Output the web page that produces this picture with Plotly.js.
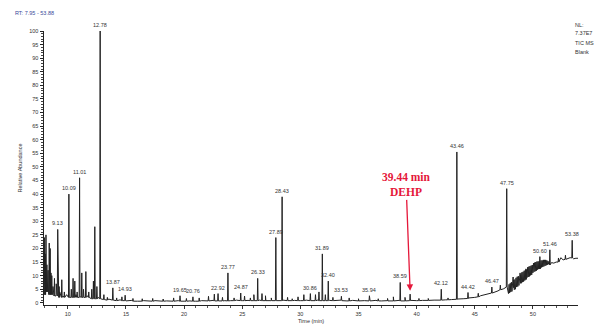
<!DOCTYPE html>
<html>
<head>
<meta charset="utf-8">
<script src="https://cdn.plot.ly/plotly-3.0.1.min.js"></script>
<style>
  html, body { margin: 0; padding: 0; background: #fff; }
  #chart { width: 601px; height: 333px; }
</style>
</head>
<body>
<div id="chart"></div>
<script>
// TIC chromatogram of the blank run, relative abundance vs retention time.

// Peak apexes: retention time (min), apex abundance (%), baseline level under the peak (%)
const peakTime = [
  7.98, 8.05, 8.12, 8.20, 8.30, 8.40, 8.48, 8.55, 8.62, 8.72, 8.85, 9.00, 9.13, 9.25, 9.48, 9.70,
  10.09, 10.30, 10.45, 10.60, 10.80, 11.01, 11.20, 11.35, 11.55, 11.80, 12.06, 12.20, 12.32, 12.50,
  12.78, 13.10, 13.40, 13.87, 14.20, 14.65, 14.93, 15.60, 16.40, 17.30, 18.20, 19.10, 19.65, 20.20,
  20.76, 21.30, 22.10, 22.60, 22.92, 23.30, 23.77, 24.30, 24.87, 25.20, 25.70, 26.00, 26.33, 26.70,
  27.00, 27.50, 27.89, 28.43, 28.90, 29.30, 29.80, 30.30, 30.86, 31.30, 31.60, 31.89, 32.15, 32.40,
  32.80, 33.53, 34.20, 35.00, 35.94, 36.70, 37.50, 38.00, 38.59, 39.00, 39.44, 40.20, 41.00, 42.12,
  42.70, 43.46, 44.42, 45.30, 46.47, 47.20, 47.75, 48.30, 48.90, 49.40, 50.60, 51.46, 52.20, 52.80,
  53.38
];
const peakHeight = [
  24, 18, 25, 14, 12, 22, 20, 11, 10, 6, 9, 7, 27, 6, 8.5, 4,
  40, 5, 9, 8, 4, 46, 11, 5, 11.5, 4, 5, 8, 28, 6,
  100, 3, 2, 5.5, 1.8, 2.2, 2.8, 1.6, 1.5, 1.6, 1.4, 1.8, 2.6, 1.6,
  2.2, 1.8, 2.4, 3.2, 3.4, 2, 11, 1.8, 3.6, 2.5, 1.8, 3, 9, 3.4,
  2.6, 1.8, 24, 39, 2, 1.5, 2.2, 3, 3.4, 3, 4, 18, 3, 8,
  2, 2.4, 1.8, 1.5, 2.6, 1.5, 1.6, 2.2, 7.5, 2.0, 3.2, 1.6, 1.6, 5,
  1.8, 55.5, 3.8, 3.5, 5.8, 6.5, 42, 9.5, 11, 12.5, 17, 19.5, 16.5, 17.5,
  23
];
const peakFoot = [
  3, 3, 4, 4, 4, 3, 3, 3, 3, 3, 2.5, 2.5, 2.5, 2, 2, 2,
  2, 2, 2, 2, 2, 2, 2, 2, 2, 2, 1.5, 1.5, 1.5, 1.5,
  1.5, 1.2, 1, 1, 0.8, 0.8, 0.8, 0.6, 0.6, 0.6, 0.6, 0.6, 0.6, 0.6,
  0.6, 0.6, 0.7, 0.7, 0.7, 0.7, 0.7, 0.8, 0.8, 0.8, 0.8, 0.8, 0.8, 0.8,
  0.8, 0.8, 0.8, 0.8, 0.8, 0.8, 0.8, 0.8, 0.8, 0.8, 0.8, 0.8, 0.8, 0.8,
  0.8, 0.8, 0.7, 0.7, 0.7, 0.7, 0.7, 0.7, 0.7, 0.7, 0.8, 0.8, 0.9, 1.0,
  1.1, 1.3, 1.6, 2.2, 3.6, 4.8, 5.8, 5.6, 7.2, 8.6, 12.5, 14, 15, 16,
  16.5
];

// Baseline and detector noise between the peaks
const baseTime = [
  7.95, 8.25, 8.5, 8.75, 9.0, 9.3, 9.6, 9.9, 10.2, 10.7, 11.1, 11.7, 12.0, 12.6, 13.0, 13.5,
  14.0, 14.5, 15.0, 15.5, 16.0, 16.5, 17.0, 17.5, 18.0, 18.5, 19.0, 19.5, 20.0, 20.5,
  21.0, 21.5, 22.0, 22.5, 23.0, 23.5, 24.0, 24.5, 25.0, 25.5, 26.0, 26.5, 27.0, 27.5,
  28.0, 28.5, 29.0, 29.5, 30.0, 30.5, 31.0, 31.5, 32.0, 32.5, 33.0, 33.5, 34.0, 34.5,
  35.0, 35.5, 36.0, 36.5, 37.0, 37.5, 38.0, 38.5, 39.0, 39.5, 40.0, 40.5, 41.0, 41.5,
  42.0, 42.5, 43.0, 43.5, 44.0, 44.5, 45.0, 45.5, 46.0, 46.5, 47.0, 47.5,
  47.90, 47.95, 48.00, 48.05, 48.10, 48.15, 48.20, 48.25, 48.35, 48.40, 48.45, 48.50,
  48.55, 48.60, 48.65, 48.70, 48.75, 48.80, 48.85, 48.95, 49.00, 49.05, 49.10, 49.15,
  49.20, 49.25, 49.30, 49.35, 49.45, 49.50, 49.55, 49.60, 49.65, 49.70, 49.75, 49.80,
  49.85, 49.90, 49.95, 50.00, 50.05, 50.10, 50.15, 50.20, 50.25, 50.30, 50.35, 50.40,
  50.45, 50.50, 50.55, 50.65, 50.70, 50.75, 50.80, 50.85, 50.90, 50.95, 51.00, 51.05,
  51.10, 51.15, 51.20, 51.25, 51.30, 51.35, 51.40, 51.55, 51.60, 51.8, 52.0, 52.4,
  52.6, 53.0, 53.2, 53.5, 53.7, 53.88
];
const baseLevel = [
  5, 6, 3.5, 5, 3, 4, 2.5, 3, 2, 3, 2.2, 2.6, 1.6, 2, 1.2, 1.4,
  0.9, 1.1, 0.7, 0.9, 0.6, 0.8, 0.6, 0.8, 0.6, 0.7, 0.6, 0.8, 0.6, 0.7,
  0.6, 0.8, 0.7, 0.9, 0.7, 0.8, 0.8, 1.0, 0.8, 0.9, 0.8, 1.0, 0.8, 0.9,
  0.8, 1.0, 0.8, 0.9, 0.8, 1.0, 0.8, 1.0, 0.8, 0.9, 0.8, 1.0, 0.7, 0.9,
  0.7, 0.8, 0.7, 0.9, 0.7, 0.8, 0.7, 0.9, 0.7, 0.9, 0.8, 0.9, 0.9, 1.0,
  1.0, 1.1, 1.2, 1.4, 1.5, 1.8, 2.0, 2.6, 3.0, 3.8, 4.4, 5.2,
  3.4, 6.8, 3.6, 7.2, 4.0, 7.6, 4.2, 8.0, 8.4, 4.8, 8.6, 5.0,
  9.2, 5.8, 9.6, 6.0, 9.8, 6.4, 10.2, 10.4, 7.2, 11.2, 7.6, 11.4,
  7.8, 11.8, 8.2, 12.0, 12.2, 9.3, 13.1, 9.5, 13.3, 9.7, 13.5, 10.1,
  13.7, 10.3, 13.9, 11.0, 14.6, 11.4, 14.8, 11.6, 15.0, 11.8, 15.2, 12.2,
  15.2, 12.4, 15.4, 12.8, 15.6, 13.0, 15.6, 13.2, 15.8, 13.4, 15.8, 13.6,
  15.8, 13.8, 15.6, 14.0, 15.4, 14.2, 15.0, 14.4, 14.8, 14.6, 15.0, 16.6,
  15.8, 16.4, 16.6, 16.2, 16.4, 16.4
];

// Peaks that carry a retention-time label
const labeledTimes = [
  9.13, 10.09, 11.01, 12.78, 13.87, 14.93, 19.65, 20.76, 22.92, 23.77, 24.87, 26.33, 27.89, 28.43,
  30.86, 31.89, 32.40, 33.53, 35.94, 38.59, 42.12, 43.46, 44.42, 46.47, 47.75, 50.60, 51.46, 53.38
];

// Highlighted compound
const markTime = 39.44;
const markName = "DEHP";

// Merge baseline points and peak apexes into one retention-time ordered trace
const HALF_WIDTH = 0.035;
const pts = [];
baseTime.forEach((t, i) => pts.push([t, baseLevel[i]]));
peakTime.forEach((t, i) => {
  pts.push([t - HALF_WIDTH, peakFoot[i]]);
  pts.push([t, peakHeight[i]]);
  pts.push([t + HALF_WIDTH, peakFoot[i]]);
});
pts.sort((a, b) => a[0] - b[0]);

const trace = {
  x: pts.map(p => p[0]),
  y: pts.map(p => p[1]),
  type: 'scatter',
  mode: 'lines',
  line: { color: '#222', width: 1 },
  hoverinfo: 'x+y'
};

const tiny = { family: 'Liberation Sans, Arial, sans-serif', size: 5.5, color: '#333' };

const annotations = labeledTimes.map(t => {
  const i = peakTime.indexOf(t);
  return {
    x: t, y: peakHeight[i], xref: 'x', yref: 'y',
    text: t.toFixed(2), showarrow: false,
    yanchor: 'bottom', yshift: 1,
    font: tiny
  };
});

// Red call-out for the highlighted compound
const markIdx = peakTime.indexOf(markTime);
annotations.push({
  x: markTime, y: peakHeight[markIdx] + 1.2, xref: 'x', yref: 'y',
  text: '<b>' + markTime.toFixed(2) + ' min</b><br><b>' + markName + '</b>',
  showarrow: true, arrowhead: 2, arrowsize: 1, arrowwidth: 1.3,
  arrowcolor: '#e5173a',
  ax: -4, ay: -106,
  font: { family: 'Liberation Serif, Times New Roman, serif', size: 11.5, color: '#e5173a' },
  align: 'center'
});

// Run header and trace information
const info = { family: 'Liberation Sans, Arial, sans-serif', size: 5.5, color: '#333' };
annotations.push({
  xref: 'paper', yref: 'paper', x: -0.058, y: 1.066, xanchor: 'left', yanchor: 'middle',
  text: 'RT: 7.95 - 53.88', showarrow: false,
  font: { family: 'Liberation Sans, Arial, sans-serif', size: 5.5, color: '#3b4a9a' }
});
const infoLines = ['NL:', '7.37E7', 'TIC MS', 'Blank'];
const infoY = [25, 33, 43, 52];
infoLines.forEach((s, k) => annotations.push({
  xref: 'paper', yref: 'paper', x: (573 - 44) / 534, y: (305 - infoY[k]) / 274,
  xanchor: 'left', yanchor: 'middle', text: s, showarrow: false, font: info
}));

const layout = {
  width: 601, height: 333,
  margin: { l: 44, r: 23, t: 31, b: 28 },
  paper_bgcolor: '#fff', plot_bgcolor: '#fff',
  showlegend: false,
  xaxis: {
    range: [7.95, 53.88],
    tickvals: [10, 15, 20, 25, 30, 35, 40, 45, 50],
    ticks: 'outside', ticklen: 3, tickcolor: '#333',
    minor: { dtick: 1, ticks: 'outside', ticklen: 2, tickcolor: '#555' },
    showgrid: false, zeroline: false,
    showline: true, linecolor: '#222', linewidth: 1,
    tickfont: tiny,
    title: { text: 'Time (min)', font: tiny, standoff: 3 }
  },
  yaxis: {
    range: [-0.8, 100],
    tickvals: [0, 5, 10, 15, 20, 25, 30, 35, 40, 45, 50, 55, 60, 65, 70, 75, 80, 85, 90, 95, 100],
    ticks: 'outside', ticklen: 3, tickcolor: '#222',
    minor: { dtick: 1, ticks: 'outside', ticklen: 2, tickcolor: '#444' },
    showgrid: false, zeroline: false,
    showline: true, linecolor: '#222', linewidth: 1.5,
    tickfont: tiny,
    title: { text: 'Relative Abundance', font: tiny, standoff: 6 }
  },
  annotations: annotations
};

Plotly.newPlot('chart', [trace], layout, { staticPlot: true, displayModeBar: false });
</script>
</body>
</html>
